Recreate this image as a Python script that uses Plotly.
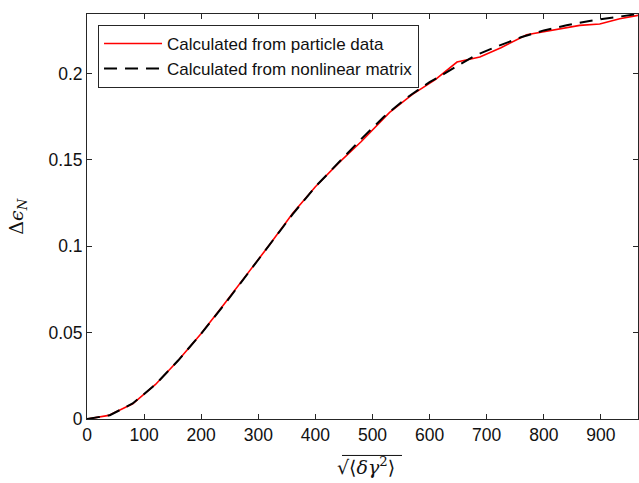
import plotly.graph_objects as go

# Data
red_x = [0, 38, 80, 120, 160, 200, 240, 280, 320, 360, 400, 440, 480, 530, 570, 610, 648, 688, 725, 770, 820, 863, 898, 933, 965]
red_y = [0, 0.0021, 0.0088, 0.0200, 0.0340, 0.0495, 0.0665, 0.0835, 0.1010, 0.1190, 0.1345, 0.1480, 0.1605, 0.1775, 0.1880, 0.1965, 0.2067, 0.2096, 0.2150, 0.2225, 0.2254, 0.2279, 0.2287, 0.2318, 0.2337]

dash_x = [0, 40, 80, 120, 160, 200, 240, 280, 320, 360, 400, 440, 480, 520, 560, 600, 640, 680, 720, 760, 800, 840, 880, 920, 965]
dash_y = [0, 0.0022, 0.0090, 0.0200, 0.0340, 0.0495, 0.0660, 0.0835, 0.1010, 0.1185, 0.1345, 0.1485, 0.1620, 0.1750, 0.1860, 0.1950, 0.2030, 0.2105, 0.2160, 0.2210, 0.2250, 0.2280, 0.2305, 0.2325, 0.2345]

x_ticks = [0, 100, 200, 300, 400, 500, 600, 700, 800, 900]
y_ticks = [0, 0.05, 0.1, 0.15, 0.2]
y_tick_text = ["0", "0.05", "0.1", "0.15", "0.2"]

names = ["Calculated from particle data", "Calculated from nonlinear matrix"]

W, H = 639, 483
L, R, T, B = 87, 1, 14, 63.5

fig = go.Figure()
fig.add_trace(go.Scatter(x=red_x, y=red_y, mode="lines", name=names[0],
                         line=dict(color="#ff0000", width=1.6)))
fig.add_trace(go.Scatter(x=dash_x, y=dash_y, mode="lines", name=names[1],
                         line=dict(color="#000000", width=2, dash="13px,8px")))

axis_common = dict(showgrid=False, zeroline=False, showline=True, linecolor="#262626",
                   linewidth=1, ticks="inside", ticklen=5, tickcolor="#262626",
                   mirror="ticks", tickfont=dict(family="Liberation Sans, Arial", size=17.5, color="#111111"))

fig.update_xaxes(range=[0, 965], tickvals=x_ticks, **axis_common)
fig.update_yaxes(range=[0, 0.2345], tickvals=y_ticks, ticktext=y_tick_text, **axis_common)

fig.update_layout(
    width=W, height=H,
    margin=dict(l=L, r=R, t=T, b=B, pad=0),
    paper_bgcolor="white", plot_bgcolor="white",
    showlegend=True,
    legend=dict(x=0.02, y=0.973, xanchor="left", yanchor="top",
                bgcolor="white", bordercolor="#262626", borderwidth=1,
                font=dict(family="Liberation Sans, Arial", size=17, color="#111111"),
                itemwidth=58, tracegroupgap=0),
    font=dict(family="Liberation Sans, Arial"),
)

pw = W - L - R
ph = H - T - B

def px_to_paper_x(px):
    return (px - L) / pw

def py_to_paper_y(py):
    return (H - B - py) / ph

# x-axis label
fig.add_annotation(text="√⟨<i>δγ</i><sup>2</sup>⟩", xref="paper", yref="paper",
                   x=px_to_paper_x(366), y=py_to_paper_y(467), xanchor="center", yanchor="middle",
                   showarrow=False, font=dict(family="DejaVu Serif", size=19, color="#111111"))
# overline of square root
fig.add_shape(type="line", xref="paper", yref="paper",
              x0=px_to_paper_x(342), x1=px_to_paper_x(402),
              y0=py_to_paper_y(456), y1=py_to_paper_y(456),
              line=dict(color="#111111", width=1))

# y-axis label
fig.add_annotation(text="Δ<i>ϵ</i><sub><i>N</i></sub>", xref="paper", yref="paper",
                   x=px_to_paper_x(18), y=py_to_paper_y(217), xanchor="center", yanchor="middle",
                   textangle=-90, showarrow=False,
                   font=dict(family="DejaVu Serif", size=19, color="#111111"))

fig.write_html("out.html")
